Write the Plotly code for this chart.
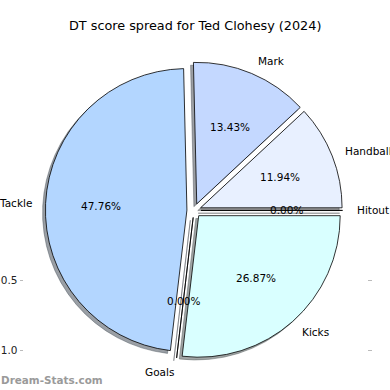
import math
import plotly.graph_objects as go

# ---------------- data ----------------
title_text = "DT score spread for Ted Clohesy (2024)"
# slice order counter-clockwise starting at 3 o'clock
categories = ["Handball", "Mark", "Tackle", "Goals", "Kicks", "Hitout"]
values = [8, 9, 32, 0, 18, 0]
colors = ["#e8f0ff", "#c4d8ff", "#b3d6ff", "#cfe4ff", "#d9ffff", "#dfe9ff"]
ytick_vals = [-0.5, -1.0]
ytick_text = ["\u22120.5", "\u22121.0"]
watermark = "Dream-Stats.com"

# ---------------- layout constants (px) ----------------
W = H = 390
CX, CY = 194.0, 210.4      # pie centre
RX, RY = 143.0, 140.0      # px per data unit (x, y)
R = 141.5                  # pie radius
EXPLODE = 0.05
LABEL_DX, LABEL_DY = 1.08, 1.11
PCT_D = 0.6
SHADOW = 0.02
AX_L, AX_R = 24, 367
FONT = "DejaVu Sans"


def hex_rgb(h):
    h = h.lstrip("#")
    return tuple(int(h[i:i + 2], 16) for i in (0, 2, 4))


shadow_colors = []
for c in colors:
    r, g, b = hex_rgb(c)
    shadow_colors.append(f"rgba({0.3*r:.0f},{0.3*g:.0f},{0.3*b:.0f},0.5)")

half = R * (1 + EXPLODE)
dom_x = [(CX - half) / W, (CX + half) / W]
dom_y = [1 - (CY + half) / H, 1 - (CY - half) / H]
sdx = -SHADOW * RX / W
sdy = -SHADOW * RY / H
sdom_x = [dom_x[0] + sdx, dom_x[1] + sdx]
sdom_y = [dom_y[0] + sdy, dom_y[1] + sdy]

fig = go.Figure()
# invisible trace so that the cartesian axes (ticks) are drawn
fig.add_trace(go.Scatter(x=[None], y=[None], mode="markers", showlegend=False,
                         hoverinfo="skip"))

# shadow pie
fig.add_trace(go.Pie(
    values=values[::-1], labels=categories[::-1],
    marker=dict(colors=shadow_colors[::-1],
                line=dict(color=shadow_colors[::-1], width=0.8)),
    direction="clockwise", rotation=90, sort=False, pull=EXPLODE,
    textinfo="none", hoverinfo="skip", domain=dict(x=sdom_x, y=sdom_y),
    showlegend=False,
))
# main pie
fig.add_trace(go.Pie(
    values=values[::-1], labels=categories[::-1],
    marker=dict(colors=colors[::-1], line=dict(color="black", width=0.8)),
    direction="clockwise", rotation=90, sort=False, pull=EXPLODE,
    textinfo="none", hoverinfo="label+percent", domain=dict(x=dom_x, y=dom_y),
    showlegend=False,
))

# labels and percentages
total = sum(values)
annotations = []
theta0 = 0.0
for cat, v in zip(categories, values):
    theta1 = theta0 + 360.0 * v / total
    mid = math.radians((theta0 + theta1) / 2)
    c, s = math.cos(mid), math.sin(mid)
    annotations.append(dict(
        x=(EXPLODE + LABEL_DX) * c, y=(EXPLODE + LABEL_DY) * s, xref="x", yref="y",
        text=cat, showarrow=False,
        xanchor="left" if c > 0 else "right", yanchor="middle",
        font=dict(family=FONT, size=10.5, color="black"), borderpad=0))
    d = EXPLODE + PCT_D
    annotations.append(dict(
        x=d * c, y=d * s, xref="x", yref="y", text=f"{100 * v / total:.2f}%",
        showarrow=False, xanchor="center", yanchor="middle",
        font=dict(family=FONT, size=10.5, color="black"), borderpad=0))
    theta0 = theta1

annotations.append(dict(
    x=195.2 / W, y=1 - 26 / H, xref="paper", yref="paper", text=title_text,
    showarrow=False, xanchor="center", yanchor="middle",
    font=dict(family=FONT, size=12.8, color="black")))
annotations.append(dict(
    x=0.0, y=1 - 380.0 / H, xref="paper", yref="paper", text=f"<b>{watermark}</b>",
    showarrow=False, xanchor="left", yanchor="middle", borderpad=0,
    font=dict(family=FONT, size=10.4, color="#9a9a9a")))

fig.update_layout(
    template="none",
    width=W, height=H, margin=dict(l=0, r=0, t=0, b=0, pad=0),
    paper_bgcolor="white", plot_bgcolor="rgba(0,0,0,0)",
    showlegend=False,
    annotations=annotations,
    xaxis=dict(domain=[AX_L / W, AX_R / W], range=[(AX_L - CX) / RX, (AX_R - CX) / RX],
               visible=False, fixedrange=True),
    yaxis=dict(range=[(CY - H) / RY, CY / RY], tickvals=ytick_vals, ticktext=ytick_text,
               ticks="outside", ticklen=3.5, tickwidth=1, tickcolor="#bbbbbb",
               mirror="ticks", showline=False, showgrid=False, zeroline=False,
               automargin=False, fixedrange=True,
               tickfont=dict(family=FONT, size=10.5, color="#222222")),
)

fig.write_html(
    "out.html",
    config={"displayModeBar": False},
    post_script="document.body.style.margin='0';document.body.style.overflow='hidden';",
)
